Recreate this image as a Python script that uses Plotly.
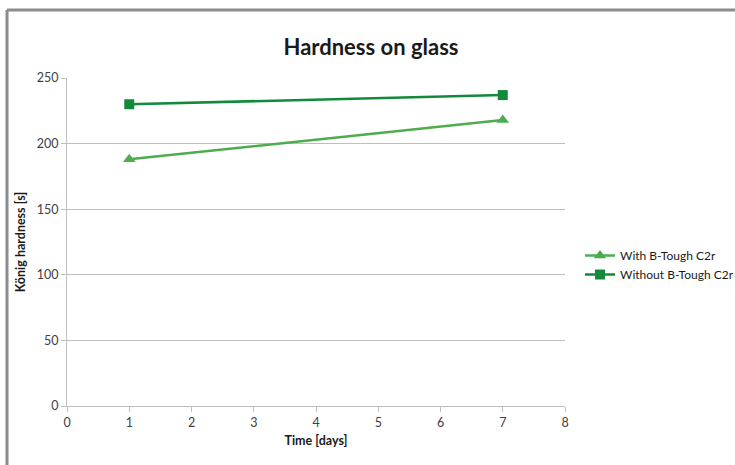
import plotly.graph_objects as go

days = [1, 7]
with_btough = [188, 218]
without_btough = [230, 237]
series_names = ["With B-Tough C2r", "Without B-Tough C2r"]

FONT = "Lato, 'Open Sans', sans-serif"

fig = go.Figure()
fig.add_trace(go.Scatter(
    x=days, y=with_btough, name=series_names[0], mode="lines+markers",
    line=dict(color="#4eac4f", width=2.5),
    marker=dict(symbol="triangle-up", size=11, color="#4eac4f"),
))
fig.add_trace(go.Scatter(
    x=days, y=without_btough, name=series_names[1], mode="lines+markers",
    line=dict(color="#13893b", width=2.5),
    marker=dict(symbol="square", size=10, color="#13893b"),
))

L, R, T, B = 67, 170, 78, 59
W, H = 735, 465
PW, PH = W - L - R, H - T - B

fig.update_layout(
    width=W, height=H, autosize=False,
    margin=dict(l=L, r=R, t=T, b=B),
    paper_bgcolor="white", plot_bgcolor="white",
    font=dict(family=FONT, color="#404040", size=12),
    title=dict(text="<b>Hardness on glass</b>", x=371 / W, xanchor="center",
               y=1 - 47 / H, yanchor="middle",
               font=dict(size=22, color="#1a1a1a", family=FONT)),
    showlegend=True,
    legend=dict(xref="container", yref="container",
                x=580 / W, y=1 - 265 / H, xanchor="left", yanchor="middle",
                font=dict(size=12, color="#1a1a1a", family=FONT),
                bgcolor="rgba(0,0,0,0)", tracegroupgap=4, itemwidth=30),
    xaxis=dict(range=[0, 8], dtick=1, showgrid=False, zeroline=False,
               showline=True, linecolor="#bfbfbf", linewidth=1,
               ticks="outside", ticklen=5, tickcolor="#bfbfbf",
               tickfont=dict(size=12.5, color="#404040"),
               title=dict(text="<b>Time [days]</b>", font=dict(size=12.5, color="#1a1a1a"), standoff=7)),
    yaxis=dict(range=[0, 250], dtick=50, showgrid=True, gridcolor="#bfbfbf", gridwidth=1,
               zeroline=False, showline=True, linecolor="#bfbfbf", linewidth=1,
               ticks="outside", ticklen=5, tickcolor="#bfbfbf",
               tickfont=dict(size=12.5, color="#404040"),
               title=dict(text="<b>König hardness [s]</b>", font=dict(size=12.5, color="#1a1a1a"), standoff=8)),
)

# outer chart frame (top and left edges visible)
x_left = (7 - L) / PW
y_top = 1 + (T - 10) / PH
fig.add_shape(type="line", xref="paper", yref="paper", x0=x_left, x1=(740 - L) / PW,
              y0=y_top, y1=y_top, line=dict(color="#8c8c8c", width=3))
fig.add_shape(type="line", xref="paper", yref="paper", x0=x_left, x1=x_left,
              y0=y_top, y1=-(B + 10) / PH, line=dict(color="#8c8c8c", width=3))

fig.write_html(
    "out.html",
    config={"responsive": False, "displayModeBar": False},
    post_script="document.body.style.margin='0';document.body.style.overflow='hidden';",
)
